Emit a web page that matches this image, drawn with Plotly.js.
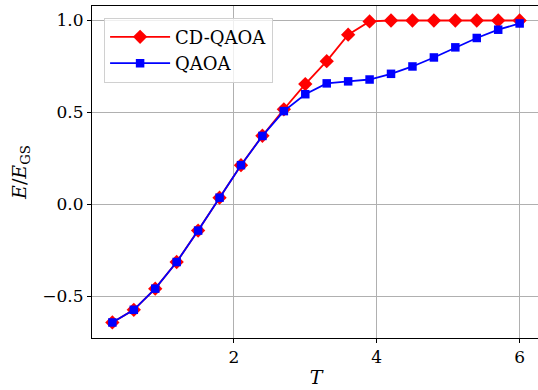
<!DOCTYPE html>
<html>
<head>
<meta charset="utf-8">
<script src="https://cdn.plot.ly/plotly-3.0.1.min.js"></script>
<style>
html,body{margin:0;padding:0;overflow:hidden;background:#fff;}
#chart{width:545px;height:390px;}
</style>
</head>
<body>
<div id="chart"></div>
<script>
const T = [0.3,0.6,0.9,1.2,1.5,1.8,2.1,2.4,2.7,3.0,3.3,3.6,3.9,4.2,4.5,4.8,5.1,5.4,5.7,6.0];
const cdqaoa = [-0.643,-0.574,-0.459,-0.314,-0.143,0.036,0.213,0.373,0.517,0.654,0.779,0.923,0.995,1.0,1.0,1.0,1.0,1.0,1.0,1.0];
const qaoa = [-0.643,-0.574,-0.459,-0.314,-0.143,0.036,0.213,0.372,0.507,0.599,0.658,0.669,0.679,0.710,0.750,0.799,0.854,0.905,0.950,0.984];
const font = "DejaVu Serif";

const traces = [
  {x:T, y:cdqaoa, name:'CD-QAOA', mode:'lines+markers', type:'scatter',
   line:{color:'#ff0000', width:1.8},
   marker:{symbol:'diamond', size:11, color:'#ff0000'}},
  {x:T, y:qaoa, name:'QAOA', mode:'lines+markers', type:'scatter',
   line:{color:'#0000ff', width:1.8},
   marker:{symbol:'square', size:8.5, color:'#0000ff'}}
];
const layout = {
  width:545, height:390,
  margin:{l:92, r:5, t:6, b:52},
  paper_bgcolor:'#fff', plot_bgcolor:'#fff',
  font:{family:font, size:17, color:'#000'},
  showlegend:true,
  legend:{x:0.027, y:0.965, xanchor:'left', yanchor:'top',
    bgcolor:'rgba(255,255,255,0.8)', bordercolor:'#d0d0d0', borderwidth:1,
    font:{family:font, size:18}, itemwidth:60, tracegroupgap:6},
  xaxis:{range:[0.015,6.285], tickvals:[2,4,6], ticktext:['2','4','6'],
    showgrid:true, gridcolor:'#b0b0b0', gridwidth:1, zeroline:false,
    showline:true, linecolor:'#000', linewidth:1, mirror:true,
    ticks:'outside', ticklen:4, tickcolor:'#000',
    tickfont:{family:font, size:17},
    title:{text:'<i>T</i>', font:{family:font, size:19}, standoff:4}},
  yaxis:{range:[-0.7275,1.079], tickvals:[-0.5,0,0.5,1.0], ticktext:['\u22120.5','0.0','0.5','1.0'],
    showgrid:true, gridcolor:'#b0b0b0', gridwidth:1, zeroline:false,
    showline:true, linecolor:'#000', linewidth:1, mirror:true,
    ticks:'outside', ticklen:4, tickcolor:'#000',
    tickfont:{family:font, size:17},
    title:{text:'<i>E</i>/<i>E</i><sub>GS</sub>', font:{family:font, size:19}, standoff:10}}
};
Plotly.newPlot('chart', traces, layout, {displayModeBar:false, staticPlot:true});
</script>
</body>
</html>
